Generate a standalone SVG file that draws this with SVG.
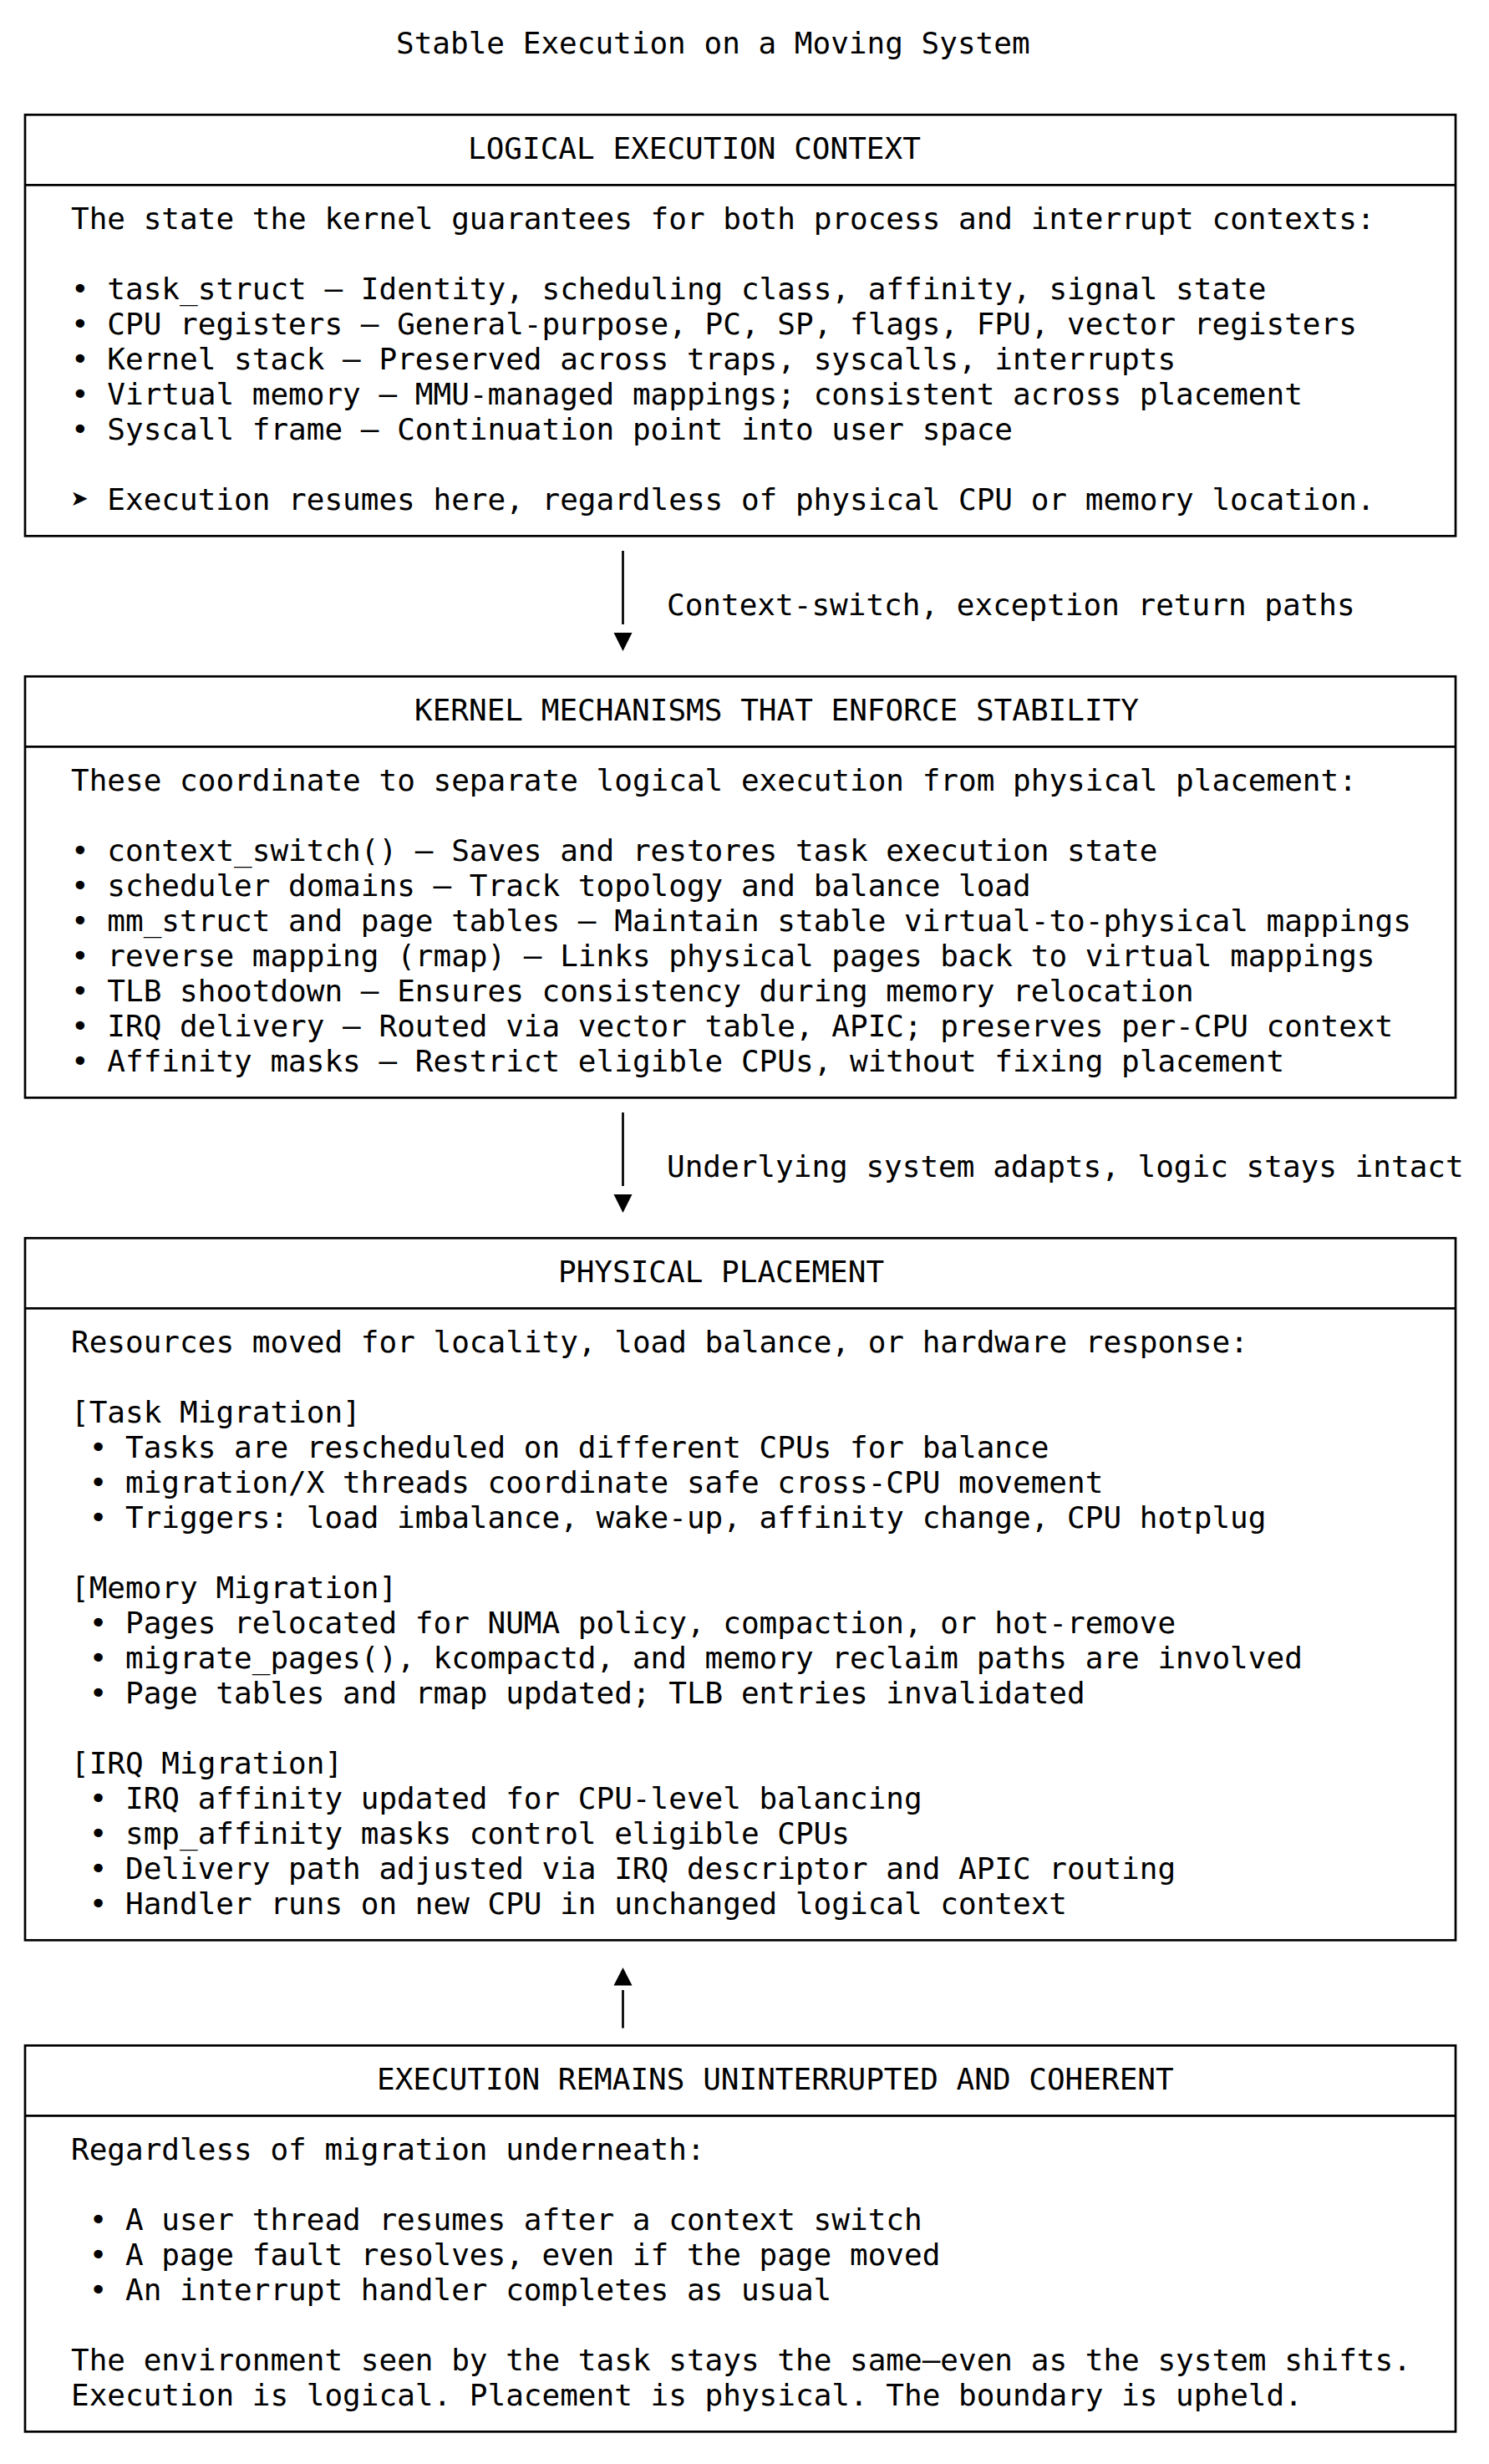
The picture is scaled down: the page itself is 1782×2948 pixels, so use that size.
<svg xmlns="http://www.w3.org/2000/svg" width="1782" height="2948" viewBox="0 0 1782 2948">
<style>
text { font-family: "DejaVu Sans Mono", "Liberation Mono", monospace; font-size: 36px; fill: #000; }
.box { fill: #fff; stroke: #000; stroke-width: 2.7; }
.div { stroke: #000; stroke-width: 2.7; }
.edge { stroke: #000; stroke-width: 2.7; fill: none; }
.head { fill: #000; stroke: none; }
</style>
<rect x="0" y="0" width="1782" height="2948" fill="#fff"/>
<text id="title" x="474" y="63.8">Stable Execution on a Moving System</text>

<g id="node-logical">
<rect class="box" x="30" y="137.3" width="1712" height="504"/>
<line class="div" x1="30" y1="221.3" x2="1742" y2="221.3"/>
<text x="560" y="189.8">LOGICAL EXECUTION CONTEXT</text>
<text x="85" y="273.8">The state the kernel guarantees for both process and interrupt contexts:</text>
<text x="85" y="357.8">• task_struct — Identity, scheduling class, affinity, signal state</text>
<text x="85" y="399.8">• CPU registers — General-purpose, PC, SP, flags, FPU, vector registers</text>
<text x="85" y="441.8">• Kernel stack — Preserved across traps, syscalls, interrupts</text>
<text x="85" y="483.8">• Virtual memory — MMU-managed mappings; consistent across placement</text>
<text x="85" y="525.8">• Syscall frame — Continuation point into user space</text>
<text y="609.8"><tspan x="85">➤</tspan><tspan x="128.33">Execution resumes here, regardless of physical CPU or memory location.</tspan></text>
</g>

<g id="node-mechanisms">
<rect class="box" x="30" y="809.3" width="1712" height="504"/>
<line class="div" x1="30" y1="893.3" x2="1742" y2="893.3"/>
<text x="496" y="861.8">KERNEL MECHANISMS THAT ENFORCE STABILITY</text>
<text x="85" y="945.8">These coordinate to separate logical execution from physical placement:</text>
<text x="85" y="1029.8">• context_switch() — Saves and restores task execution state</text>
<text x="85" y="1071.8">• scheduler domains — Track topology and balance load</text>
<text x="85" y="1113.8">• mm_struct and page tables — Maintain stable virtual-to-physical mappings</text>
<text x="85" y="1155.8">• reverse mapping (rmap) — Links physical pages back to virtual mappings</text>
<text x="85" y="1197.8">• TLB shootdown — Ensures consistency during memory relocation</text>
<text x="85" y="1239.8">• IRQ delivery — Routed via vector table, APIC; preserves per-CPU context</text>
<text x="85" y="1281.8">• Affinity masks — Restrict eligible CPUs, without fixing placement</text>
</g>

<g id="node-physical">
<rect class="box" x="30" y="1481.3" width="1712" height="840"/>
<line class="div" x1="30" y1="1565.3" x2="1742" y2="1565.3"/>
<text x="668" y="1533.8">PHYSICAL PLACEMENT</text>
<text x="85" y="1617.8">Resources moved for locality, load balance, or hardware response:</text>
<text x="85" y="1701.8">[Task Migration]</text>
<text x="106.67" y="1743.8">• Tasks are rescheduled on different CPUs for balance</text>
<text x="106.67" y="1785.8">• migration/X threads coordinate safe cross-CPU movement</text>
<text x="106.67" y="1827.8">• Triggers: load imbalance, wake-up, affinity change, CPU hotplug</text>
<text x="85" y="1911.8">[Memory Migration]</text>
<text x="106.67" y="1953.8">• Pages relocated for NUMA policy, compaction, or hot-remove</text>
<text x="106.67" y="1995.8">• migrate_pages(), kcompactd, and memory reclaim paths are involved</text>
<text x="106.67" y="2037.8">• Page tables and rmap updated; TLB entries invalidated</text>
<text x="85" y="2121.8">[IRQ Migration]</text>
<text x="106.67" y="2163.8">• IRQ affinity updated for CPU-level balancing</text>
<text x="106.67" y="2205.8">• smp_affinity masks control eligible CPUs</text>
<text x="106.67" y="2247.8">• Delivery path adjusted via IRQ descriptor and APIC routing</text>
<text x="106.67" y="2289.8">• Handler runs on new CPU in unchanged logical context</text>
</g>

<g id="node-execution">
<rect class="box" x="30" y="2447.3" width="1712" height="462"/>
<line class="div" x1="30" y1="2531.3" x2="1742" y2="2531.3"/>
<text x="451" y="2499.8">EXECUTION REMAINS UNINTERRUPTED AND COHERENT</text>
<text x="85" y="2583.8">Regardless of migration underneath:</text>
<text x="106.67" y="2667.8">• A user thread resumes after a context switch</text>
<text x="106.67" y="2709.8">• A page fault resolves, even if the page moved</text>
<text x="106.67" y="2751.8">• An interrupt handler completes as usual</text>
<text x="85" y="2835.8">The environment seen by the task stays the same—even as the system shifts.</text>
<text x="85" y="2877.8">Execution is logical. Placement is physical. The boundary is upheld.</text>
</g>

<g id="connectors">
<g id="edge-logical-mechanisms">
<line class="edge" x1="745.5" y1="659" x2="745.5" y2="747"/>
<polygon class="head" points="734.5,757 756.5,757 745.5,779"/>
<text x="798" y="735.8">Context-switch, exception return paths</text>
</g>
<g id="edge-mechanisms-physical">
<line class="edge" x1="745.5" y1="1331" x2="745.5" y2="1419"/>
<polygon class="head" points="734.5,1429 756.5,1429 745.5,1451"/>
<text x="798" y="1407.8">Underlying system adapts, logic stays intact</text>
</g>
<g id="edge-execution-physical">
<line class="edge" x1="745.5" y1="2381" x2="745.5" y2="2426.5"/>
<polygon class="head" points="734.5,2375.5 756.5,2375.5 745.5,2354"/>
</g>
</g>
</svg>
